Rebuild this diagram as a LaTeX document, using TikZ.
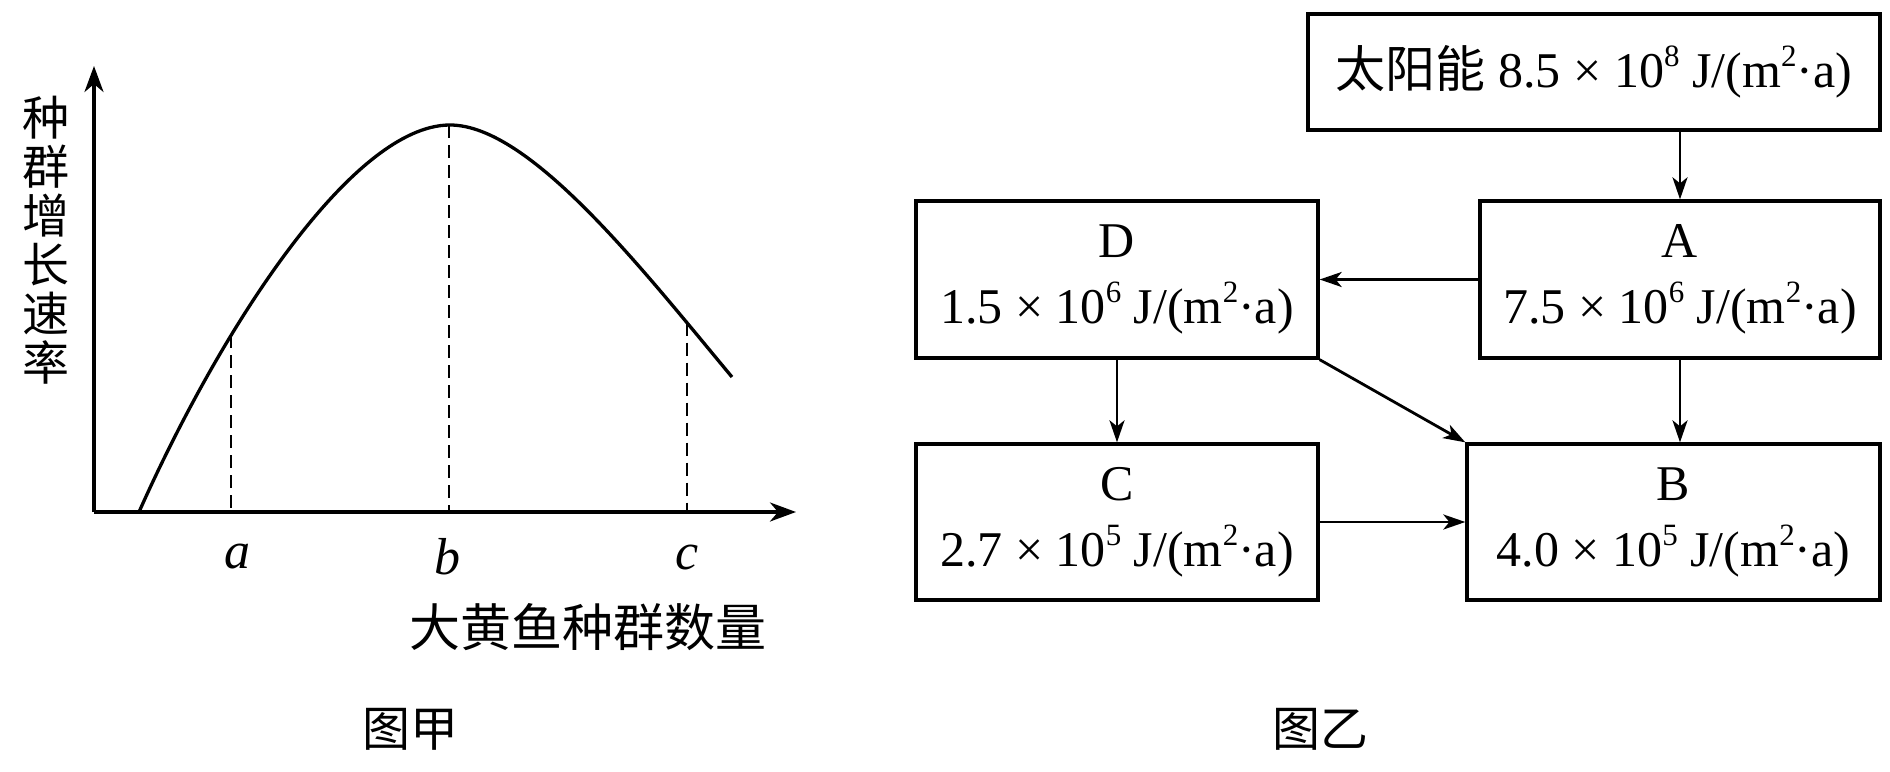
\documentclass[tikz,border=0pt]{standalone}
\usepackage{fontspec}
\setmainfont{Liberation Serif}
\newfontfamily\cjk{Noto Sans CJK SC}
\usetikzlibrary{arrows.meta,intersections}
\newcommand{\hsup}[1]{\raisebox{0.42em}{\fontsize{31}{31}\selectfont #1}}
\begin{document}
\begin{tikzpicture}[x=1pt,y=-1pt,
  box/.style={draw, line width=3.3pt, align=center, inner sep=0pt, font=\fontsize{50}{66}\selectfont},
  arr/.style={line width=2.8pt, -{Stealth[length=22pt,width=15pt,inset=6pt]}},
  axis/.style={line width=3.4pt, -{Stealth[length=26pt,width=19pt,inset=8pt]}},
  curve/.style={line width=3.3pt},
  dashln/.style={line width=2.8pt, dash pattern=on 13pt off 7pt},
  lbl/.style={font=\fontsize{52}{60}\selectfont\itshape},
  cjklbl/.style={font=\cjk\fontsize{48}{58}\selectfont}]
\useasboundingbox (0,0) rectangle (1890,771);
% ---- graph 甲 ----
\coordinate (O) at (94,512);
\coordinate (Ytip) at (94,66);
\coordinate (Xtip) at (796,512);
\coordinate (p0) at (139,512);
\coordinate (pb) at (450,125);
\coordinate (pe) at (732,377);
\draw[axis] (O) -- (Ytip);
\draw[axis] (O) -- (Xtip);
\draw[curve, name path=crv] (p0) .. controls (220,330) and (352,125) .. (pb)
  .. controls (530,125) and (642,269) .. (pe);
\path[name path=va] (231,100) -- (231,520);
\path[name path=vb] (449,100) -- (449,520);
\path[name path=vc] (687,100) -- (687,520);
\path[name intersections={of=crv and va, by=pa}];
\path[name intersections={of=crv and vb, by=pbb}];
\path[name intersections={of=crv and vc, by=pc}];
\draw[dashln] (pa) -- (pa |- O);
\draw[dashln] (pbb) -- (pbb |- O);
\draw[dashln] (pc) -- (pc |- O);
\node[lbl] (la) at (237,557) {a};
\node[lbl] (lb) at (447,557) {b};
\node[lbl] (lc) at (687,557) {c};
\node[cjklbl, font=\cjk\fontsize{51}{58}\selectfont] (xl) at (588,627) {大黄鱼种群数量};
\node[cjklbl, align=center, font=\cjk\fontsize{47}{49}\selectfont] (yl) at (46,240) {种\\群\\增\\长\\速\\率};
\node[cjklbl] (cap1) at (410,729) {图甲};
% ---- graph 乙 ----
\node[box, minimum width=572pt, minimum height=116pt] (T) at (1594,72) {{\cjk 太阳能} 8.5 × 10\hsup{8} J/(m\hsup{2}·a)};
\node[box, minimum width=400pt, minimum height=157pt] (A) at (1680,279.5) {A\\7.5 × 10\hsup{6} J/(m\hsup{2}·a)};
\node[box, minimum width=402pt, minimum height=157pt] (D) at (1117,279.5) {D\\1.5 × 10\hsup{6} J/(m\hsup{2}·a)};
\node[box, minimum width=402pt, minimum height=156pt] (C) at (1117,522) {C\\2.7 × 10\hsup{5} J/(m\hsup{2}·a)};
\node[box, minimum width=413pt, minimum height=156pt] (B) at (1673.5,522) {B\\4.0 × 10\hsup{5} J/(m\hsup{2}·a)};
\node[cjklbl] (cap2) at (1320,729) {图乙};
\draw[arr] (T.south -| A.north) -- (A.north);
\draw[arr] (A.west) -- (D.east);
\draw[arr] (A.south) -- (A.south |- B.north);
\draw[arr] (D.south) -- (C.north);
\draw[arr] (D.south east) -- (B.north west);
\draw[arr] (C.east) -- (B.west);
\end{tikzpicture}
\end{document}
